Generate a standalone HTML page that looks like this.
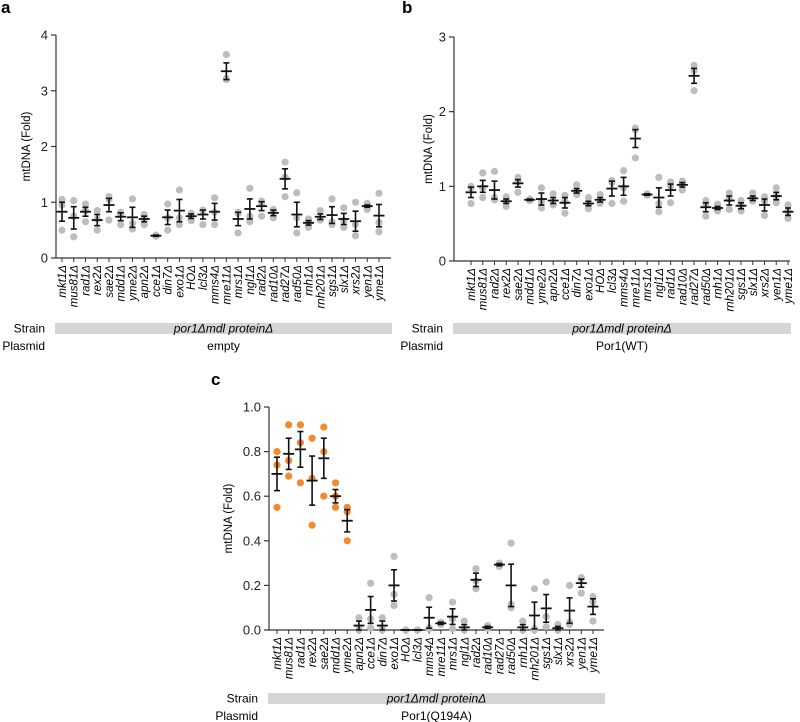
<!DOCTYPE html>
<html><head><meta charset="utf-8"><style>
html,body{margin:0;padding:0;background:#fff;width:800px;height:722px;overflow:hidden}
svg{display:block;font-family:"Liberation Sans",Arial,sans-serif}
</style></head><body>
<svg id="fig" width="800" height="722" viewBox="0 0 800 722" xmlns="http://www.w3.org/2000/svg"></svg>
<script>
const catsA = ["mkt1","mus81","rad1","rex2","sae2","mdd1","yme2","apn2","cce1","din7","exo1","HO","lcl3","mms4","mre11","mrs1","ngl1","rad2","rad10","rad27","rad50","rnh1","rnh201","sgs1","slx1","xrs2","yen1","yme1"];
const meanA = [0.83,0.72,0.83,0.68,0.95,0.74,0.73,0.7,0.4,0.73,0.85,0.75,0.78,0.83,3.35,0.7,0.88,0.93,0.81,1.42,0.78,0.63,0.74,0.77,0.7,0.66,0.93,0.76];
const semA = [0.17,0.2,0.08,0.1,0.12,0.07,0.18,0.05,0.01,0.13,0.2,0.04,0.08,0.15,0.15,0.12,0.18,0.08,0.05,0.18,0.22,0.04,0.05,0.15,0.1,0.18,0.02,0.2];
const ptsA = [[1.05,0.5,0.95],[1.03,0.38,0.75],[0.97,0.65,0.85],[0.85,0.5,0.7],[1.1,0.68,1.05],[0.82,0.6,0.78],[1.06,0.52,0.62],[0.78,0.6,0.72],[0.4,0.39,0.41],[0.97,0.5,0.72],[1.22,0.6,0.72],[0.8,0.67,0.77],[0.86,0.6,0.85],[1.08,0.6,0.82],[3.65,3.2,3.22],[0.82,0.45,0.8],[1.25,0.65,0.75],[1.02,0.75,0.98],[0.87,0.72,0.83],[1.72,1.1,1.45],[1.17,0.45,0.72],[0.7,0.55,0.65],[0.85,0.68,0.7],[1.06,0.6,0.65],[0.9,0.55,0.67],[1.0,0.4,0.6],[0.98,0.87,0.95],[1.16,0.47,0.64]];
const ticksA = [0,1,2,3,4];

const catsB = ["mkt1","mus81","rad2","rex2","sae2","mdd1","yme2","apn2","cce1","din7","exo1","HO","lcl3","mms4","mre11","mrs1","ngl1","rad1","rad10","rad27","rad50","rnh1","rnh201","sgs1","slx1","xrs2","yen1","yme1"];
const meanB = [0.92,1.0,0.95,0.8,1.04,0.82,0.83,0.81,0.78,0.94,0.77,0.82,0.97,1.0,1.64,0.89,0.85,0.95,1.02,2.48,0.72,0.71,0.81,0.74,0.84,0.75,0.87,0.66];
const semB = [0.07,0.08,0.12,0.03,0.05,0.01,0.08,0.04,0.07,0.03,0.03,0.03,0.1,0.12,0.12,0.01,0.13,0.08,0.03,0.1,0.06,0.02,0.06,0.04,0.03,0.08,0.05,0.05];
const ptsB = [[1.0,0.77,0.98],[1.18,0.85,0.98],[1.2,0.82,0.85],[0.86,0.73,0.8],[1.12,0.92,1.06],[0.83,0.81,0.82],[0.98,0.71,0.8],[0.9,0.75,0.8],[0.88,0.64,0.8],[1.02,0.89,0.92],[0.85,0.7,0.76],[0.89,0.77,0.8],[1.08,0.77,1.05],[1.21,0.8,0.98],[1.78,1.38,1.76],[0.9,0.88,0.89],[1.12,0.66,0.77],[1.06,0.78,1.0],[1.07,0.95,1.04],[2.62,2.28,2.55],[0.81,0.6,0.75],[0.76,0.67,0.7],[0.91,0.69,0.83],[0.81,0.67,0.75],[0.91,0.8,0.83],[0.86,0.61,0.8],[0.98,0.78,0.87],[0.75,0.57,0.66]];
const ticksB = [0,1,2,3];

const catsC = ["mkt1","mus81","rad1","rex2","sae2","mdd1","yme2","apn2","cce1","din7","exo1","HO","lcl3","mms4","mre11","mrs1","ngl1","rad2","rad10","rad27","rad50","rnh1","rnh201","sgs1","slx1","xrs2","yen1","yme1"];
const meanC = [0.7,0.79,0.81,0.67,0.77,0.6,0.49,0.02,0.09,0.02,0.2,0,0,0.055,0.03,0.06,0.012,0.225,0.012,0.293,0.2,0.012,0.065,0.097,0.008,0.087,0.21,0.105];
const semC = [0.075,0.07,0.08,0.11,0.09,0.03,0.05,0.02,0.06,0.02,0.07,0,0,0.047,0.005,0.035,0.012,0.03,0.005,0.005,0.095,0.012,0.06,0.062,0.008,0.057,0.018,0.035];
const ptsC = [[0.8,0.74,0.55],[0.92,0.76,0.69],[0.92,0.84,0.66],[0.86,0.68,0.47],[0.91,0.8,0.6],[0.66,0.55,0.6],[0.55,0.53,0.4],[0.055,0,0.01],[0.21,0.05,0.01],[0.055,0,0.01],[0.33,0.16,0.11],[0,0,0],[0,0,0],[0.145,0.01,0.005],[0.035,0.025,0.03],[0.125,0.05,0.005],[0.04,0,0],[0.275,0.185,0.22],[0.02,0.008,0.01],[0.3,0.285,0.295],[0.39,0.1,0.115],[0.04,0,0],[0.185,0,0.005],[0.215,0.06,0.015],[0.025,0,0],[0.2,0.035,0.025],[0.235,0.165,0.23],[0.15,0.04,0.125]];
const ticksC = [0,0.2,0.4,0.6,0.8,1.0];
const orangeCountC = 7;

const NS = "http://www.w3.org/2000/svg";
const svg = document.getElementById("fig");
function mk(tag, attrs, parent, text){
  const e = document.createElementNS(NS, tag);
  for (const k in attrs) e.setAttribute(k, attrs[k]);
  if (text !== undefined) e.textContent = text;
  (parent || svg).appendChild(e);
  return e;
}

function panel(o){
  const g = mk("g", {});
  
  
  const y = v => o.y0 - (v - 0) / o.ymax * (o.y0 - o.yTop);
  const n = o.cats.length;
  const x = i => o.xFirst + i * (o.xLast - o.xFirst) / (n - 1);
  const lab = mk("text", {x:o.labX, y:o.labY, "font-size":17, "font-weight":"bold"}, g, o.id);
  
  
  // axes
  const ya = mk("line", {x1:o.ax, y1:o.yTop, x2:o.ax, y2:o.y0, stroke:"#333", "stroke-width":1.2}, g);
  
  
  const xa = mk("line", {x1:o.ax, y1:o.y0, x2:o.axEnd, y2:o.y0, stroke:"#333", "stroke-width":1.2}, g);
  
  
  o.ticks.forEach(t => {
    const ty = y(t);
    const tl = mk("line", {x1:o.ax-5, y1:ty, x2:o.ax, y2:ty, stroke:"#333", "stroke-width":1.2}, g);
    
    
    const tt = mk("text", {x:o.ax-8, y:ty+4.5, "font-size":13, "text-anchor":"end", fill:"#222"}, g, o.tickFmt(t));
    
    
  });
  const yt = mk("text", {x:0, y:0, "font-size":11.5, "text-anchor":"middle", transform:`translate(${o.ytX},${(o.y0+o.yTop)/2}) rotate(-90)`}, g, "mtDNA (Fold)");
  
  
  o.cats.forEach((c, i) => {
    const cx = x(i);
    const tk = mk("line", {x1:cx, y1:o.y0, x2:cx, y2:o.y0+4, stroke:"#333", "stroke-width":1}, g);
    
    
    const t = mk("text", {x:0, y:0, "font-size":11.5, "font-style":"italic", "text-anchor":"end", transform:`translate(${cx+4},${o.y0+7}) rotate(-90)`}, g, c + "\u0394");
    
    
    const col = (o.orange && i < o.orange) ? "#f28a2f" : "#bdbdbd";
    o.pts[i].forEach(p => {
      const d = mk("circle", {cx:cx, cy:y(p), r:3.6, fill:col}, g);
      
      
    });
    const m = o.mean[i], s = o.sem[i];
    const eb = mk("g", {stroke:"#111", "stroke-width":1.6}, g);
    
    
    mk("line", {x1:cx, y1:y(m+s), x2:cx, y2:y(m-s)}, eb);
    mk("line", {x1:cx-3, y1:y(m+s), x2:cx+3, y2:y(m+s)}, eb);
    mk("line", {x1:cx-3, y1:y(m-s), x2:cx+3, y2:y(m-s)}, eb);
    const ml = mk("line", {x1:cx-5.5, y1:y(m), x2:cx+5.5, y2:y(m), stroke:"#111", "stroke-width":1.8}, g);
    
    
  });
  const sb = mk("rect", {x:o.ax-1, y:o.barY, width:o.axEnd-o.ax+2, height:11, fill:"#d5d5d5"}, g);
  
  
  const mid = (o.ax + o.axEnd) / 2;
  const st = mk("text", {x:mid, y:o.barY+9.5, "font-size":12, "font-style":"italic", "text-anchor":"middle"}, g, "por1\u0394mdl protein\u0394");
  
  
  const sl = mk("text", {x:o.ax-11, y:o.barY+9.5, "font-size":12, "text-anchor":"end"}, g, "Strain");
  
  
  const pl = mk("text", {x:o.ax-11, y:o.barY+27, "font-size":12, "text-anchor":"end"}, g, "Plasmid");
  
  
  const pv = mk("text", {x:mid, y:o.barY+27, "font-size":12, "text-anchor":"middle"}, g, o.plasmid);
  
  
}

panel({id:"a", cats:catsA, mean:meanA, sem:semA, pts:ptsA, ticks:ticksA, ymax:4, tickFmt:t=>String(t),
  ax:56, axEnd:391, y0:258, yTop:35, xFirst:62, xLast:379, labX:1, labY:13, ytX:30, barY:323, plasmid:"empty"});
panel({id:"b", cats:catsB, mean:meanB, sem:semB, pts:ptsB, ticks:ticksB, ymax:3, tickFmt:t=>String(t),
  ax:454, axEnd:790, y0:261, yTop:37, xFirst:471, xLast:788, labX:402, labY:13, ytX:432, barY:323, plasmid:"Por1(WT)"});
panel({id:"c", cats:catsC, mean:meanC, sem:semC, pts:ptsC, ticks:ticksC, ymax:1, tickFmt:t=>t.toFixed(1), orange:orangeCountC,
  ax:269, axEnd:604, y0:630, yTop:407, xFirst:277, xLast:593, labX:211, labY:385, ytX:232, barY:693, plasmid:"Por1(Q194A)"});
</script>
</body></html>
